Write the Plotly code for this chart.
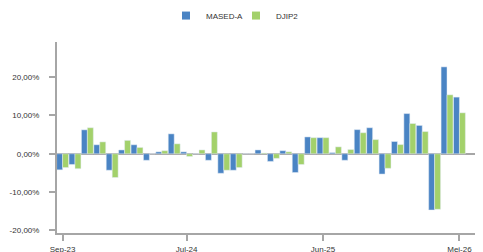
import plotly.graph_objects as go

months = ["Sep-23","Okt-23","Nov-23","Des-23","Jan-24","Feb-24","Mar-24","Apr-24","Mei-24","Jun-24",
          "Jul-24","Agu-24","Sep-24","Okt-24","Nov-24","Des-24","Jan-25","Feb-25","Mar-25","Apr-25",
          "Mei-25","Jun-25","Jul-25","Agu-25","Sep-25","Okt-25","Nov-25","Des-25","Jan-26","Feb-26",
          "Mar-26","Apr-26","Mei-26"]
mased_a = [-4.2,-2.8,6.25,2.35,-4.3,1.0,2.35,-1.7,0.5,5.2,
           0.5,0.0,-1.7,-5.1,-4.3,0.0,1.0,-2.0,0.8,-4.9,
           4.4,4.2,0.3,-1.7,6.3,6.8,-5.3,3.2,10.5,7.4,
           -14.7,22.7,14.8]
djip2 = [-3.6,-3.9,6.8,3.1,-6.2,3.5,1.65,0.0,0.8,2.6,
         -0.7,1.0,5.7,-4.3,-3.6,0.0,0.2,-1.2,0.5,-2.8,
         4.2,4.2,1.8,1.1,5.5,3.7,-3.8,2.4,7.9,5.8,
         -14.5,15.4,10.7]
series_names = ["MASED-A", "DJIP2"]
series_colors = ["#4a84c4", "#a3d16b"]
x_ticks = ["Sep-23","Jul-24","Jun-25","Mei-26"]
y_ticks = [-20,-10,0,10,20]
y_ticktext = ["-20,00%","-10,00%","0,00%","10,00%","20,00%"]

fig = go.Figure()
for name, vals, col in zip(series_names, [mased_a, djip2], series_colors):
    fig.add_trace(go.Bar(x=months, y=[v/100 for v in vals], name=name, marker_color=col,
                         showlegend=False, legendgroup=name))
# legend entries with small square symbols
for name, col in zip(series_names, series_colors):
    fig.add_trace(go.Scatter(x=[None], y=[None], mode="markers", name=name, legendgroup=name,
                             marker=dict(symbol="square", size=8, color=col)))

axis_col = "#a6a6a6"
fig.update_layout(
    width=483, height=252,
    margin=dict(l=49, r=8, t=34, b=27),
    plot_bgcolor="white", paper_bgcolor="white",
    barmode="group", bargap=0.04, bargroupgap=0,
    font=dict(family="Liberation Sans, Arial, sans-serif", size=8, color="#333333"),
    showlegend=True,
    legend=dict(orientation="h", xref="container", yref="container", x=0.472, y=0.97,
                xanchor="center", yanchor="middle", font=dict(size=8, color="#333333"),
                itemwidth=30, entrywidth=25, entrywidthmode="pixels", traceorder="normal"),
    xaxis=dict(type="category", categoryorder="array", categoryarray=months, automargin=False,
               range=[-0.45, 33.9], tickmode="array", tickvals=x_ticks, ticktext=x_ticks,
               showline=True, linecolor=axis_col, linewidth=2, ticks="outside", ticklen=6,
               tickcolor=axis_col, tickwidth=1.5, showgrid=False, zeroline=False,
               ticklabelstandoff=1, tickfont=dict(size=8, color="#333333")),
    yaxis=dict(range=[-0.207, 0.292], tickmode="array", tickvals=[v/100 for v in y_ticks],
               ticktext=y_ticktext, showline=True, linecolor=axis_col, linewidth=2, automargin=False,
               ticks="outside", ticklen=6, tickcolor=axis_col, tickwidth=1.5,
               showgrid=False, zeroline=True, zerolinecolor=axis_col, zerolinewidth=1.5,
               ticklabelstandoff=8, tickfont=dict(size=8, color="#333333")),
)
fig.write_html("out.html")
